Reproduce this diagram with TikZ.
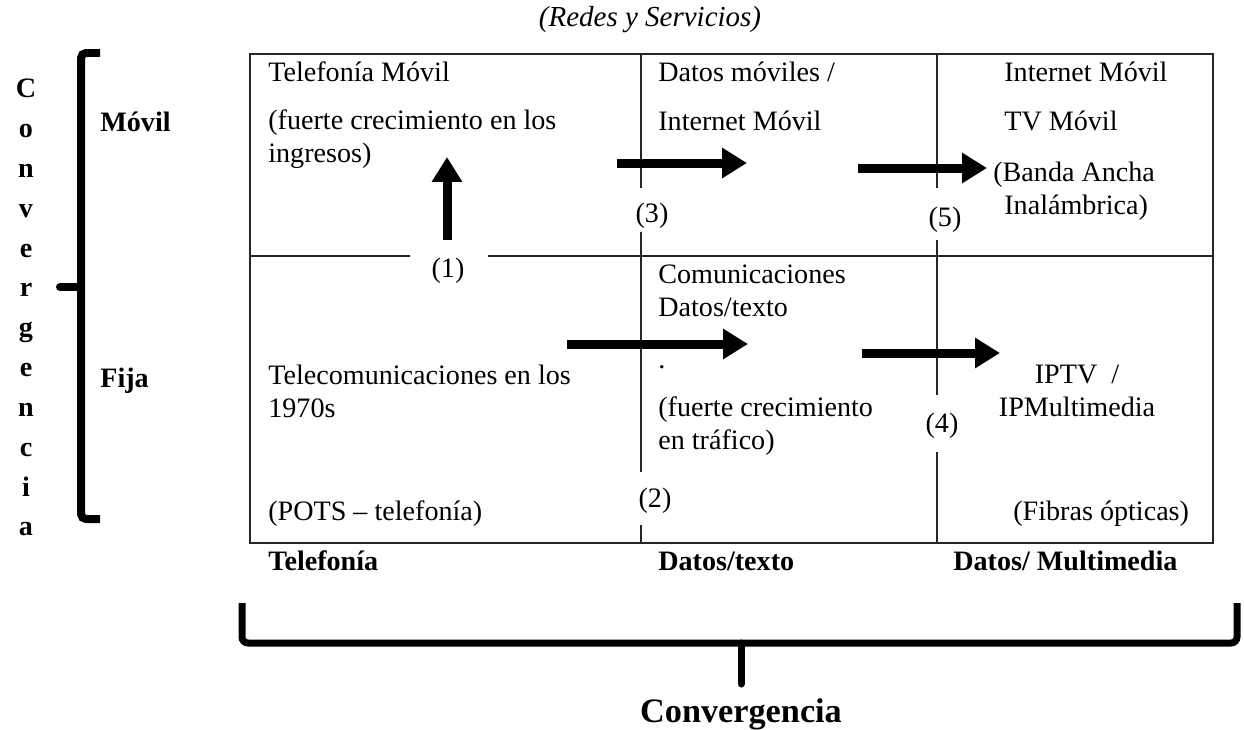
\documentclass[tikz,border=0pt]{standalone}
\usepackage{fontspec}
\setmainfont{Liberation Serif}
\usepackage{tikz}
\usetikzlibrary{arrows.meta}
\newcommand\cellfont{\fontsize{16}{18.7}\selectfont}
\tikzset{
  txt/.style={anchor=base west, inner sep=0pt, align=left, font=\cellfont},
  ctxt/.style={anchor=base, inner sep=0pt, align=center, font=\cellfont},
  btxt/.style={anchor=base west, inner sep=0pt, font=\cellfont\bfseries},
  grid/.style={line width=0.8pt, black!85},
  bigarrow/.style={line width=0.18cm, -{Triangle[length=0.5cm, width=0.58cm]}},
  brack/.style={line width=0.16cm, rounded corners=0.1cm}
}
\begin{document}
\begin{tikzpicture}[x=0.02cm, y=-0.02cm]
\useasboundingbox (0,0) rectangle (1244,730);
% titulo
\node[ctxt, font=\fontsize{16.5}{19}\selectfont\itshape] (redes) at (650,27) {(Redes y Servicios)};
% cuadro
\draw[grid] (250,54) rectangle (1213,543);
\draw[grid] (250,256) -- (410,256);
\draw[grid] (488,256) -- (1213,256);
\draw[grid] (641,54) -- (641,188);
\draw[grid] (641,232) -- (641,472);
\draw[grid] (641,525) -- (641,543);
\draw[grid] (937,54) -- (937,188);
\draw[grid] (937,240) -- (937,395);
\draw[grid] (937,452) -- (937,543);
% textos de las celdas (base = ultima linea)
\node[txt] (telmov) at (268,81) {Telefonía Móvil};
\node[txt] (ingresos) at (268,162) {(fuerte crecimiento en los\\ingresos)};
\node[txt] (datmov) at (658,81) {Datos móviles /};
\node[txt] (intmov) at (658,130) {Internet Móvil};
\node[txt] (intmov2) at (1004,81) {Internet Móvil};
\node[txt] (tvmov) at (1004,130) {TV Móvil};
\node[txt] (banda) at (993,181) {(Banda Ancha};
\node[txt] (inalam) at (1004,214) {Inalámbrica)};
\node[txt] (telecom) at (268,417) {Telecomunicaciones en los\\1970s};
\node[txt] (pots) at (268,520) {(POTS -- telefonía)};
\node[txt] (comunic) at (658,316) {Comunicaciones\\Datos/texto};
\node[txt] (punto) at (658,368) {.};
\node[txt] (trafico) at (658,449) {(fuerte crecimiento\\en tráfico)};
\node[ctxt] (iptv) at (1077,416) {IPTV~~/\\IPMultimedia};
\node[txt] (fibras) at (1013,520) {(Fibras ópticas)};
% numeros
\node[ctxt] (n1) at (448,277) {(1)};
\node[ctxt] (n2) at (655,507) {(2)};
\node[ctxt] (n3) at (652,222) {(3)};
\node[ctxt] (n4) at (942,432) {(4)};
\node[ctxt] (n5) at (945,226) {(5)};
% flechas
\coordinate (a1s) at (447,240);
\coordinate (a1e) at (447,157);
\coordinate (a3s) at (617,163);
\coordinate (a3e) at (747,163);
\coordinate (a5s) at (858,168);
\coordinate (a5e) at (987,168);
\coordinate (a2s) at (567,344);
\coordinate (a2e) at (748,344);
\coordinate (a4s) at (862,353);
\coordinate (a4e) at (1000,353);
\draw[bigarrow] (a1s) -- (a1e);
\draw[bigarrow] (a3s) -- (a3e);
\draw[bigarrow] (a5s) -- (a5e);
\draw[bigarrow] (a2s) -- (a2e);
\draw[bigarrow] (a4s) -- (a4e);
% columnas
\node[btxt] (telef) at (268,570) {Telefonía};
\node[btxt] (datos) at (658,570) {Datos/texto};
\node[btxt] (multi) at (953,570) {Datos/ Multimedia};
% lado izquierdo
\node[btxt] (movil) at (100,131) {Móvil};
\node[btxt] (fija) at (100,387) {Fija};
\draw[brack] (100,53) -- (81,53) -- (81,519) -- (100,519);
\draw[line width=0.16cm, line cap=round] (60,287) -- (81,287);
\foreach \l [count=\i from 0] in {C,o,n,v,e,r,g,e,n,c,i,a}
  \node[anchor=base, inner sep=0pt, font=\cellfont\bfseries] (v\i) at (26,97.6+39.85*\i) {\l};
% llave de abajo
\draw[line width=0.14cm, rounded corners=0.12cm] (242,603) -- (242,643) -- (1237,643) -- (1237,603);
\draw[line width=0.14cm, line cap=round] (741,643) -- (741,684);
\node[anchor=base, inner sep=0pt, font=\fontsize{19.5}{22}\selectfont\bfseries] (conv) at (741,722) {Convergencia};
\end{tikzpicture}
\end{document}
